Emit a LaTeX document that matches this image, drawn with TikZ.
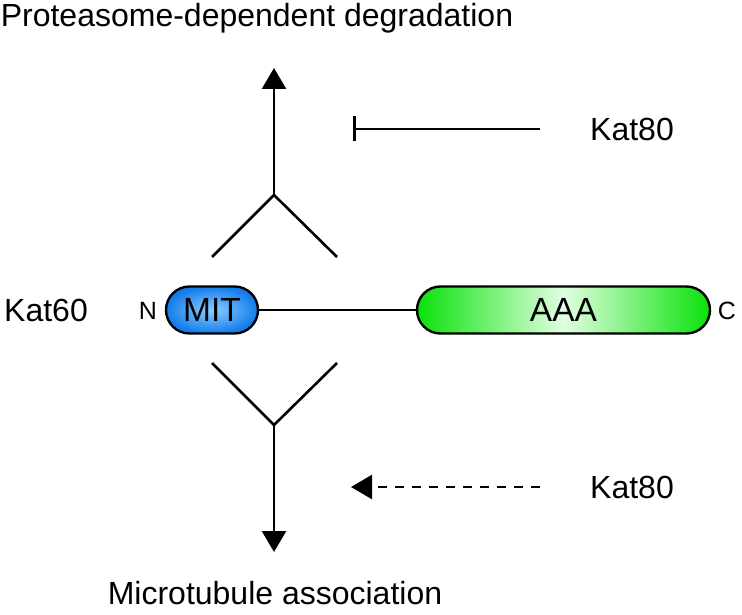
\documentclass[tikz,border=0pt]{standalone}
\usepackage{fontspec}
\setmainfont{Liberation Sans}
\usetikzlibrary{arrows.meta}
\definecolor{mitblue}{RGB}{20,125,235}
\definecolor{mitlight}{RGB}{140,205,255}
\definecolor{aaagreen}{RGB}{10,225,10}
\definecolor{aaalight}{RGB}{225,255,225}
\tikzset{
  biglbl/.style={font=\fontsize{32}{38}\selectfont, inner sep=0pt},
  smalllbl/.style={font=\fontsize{25}{30}\selectfont, inner sep=0pt},
  dombox/.style={draw=black, line width=2.4pt, rounded corners=23.5pt, inner sep=0pt,
    font=\fontsize{33.5}{40}\selectfont},
  connline/.style={line width=2.6pt, black},
  arrtip/.style={-{Triangle[width=24pt,length=21pt]}},
}
\begin{document}
\begin{tikzpicture}[x=1pt,y=-1pt]
\useasboundingbox (0,0) rectangle (742,615);
% texts
\node[biglbl, anchor=base] (title) at (257,27) {Proteasome-dependent degradation};
\node[biglbl, anchor=base] (bottom) at (275,604) {Microtubule association};
\node[biglbl] (kat60) at (46,310) {Kat60};
\node[smalllbl] (nterm) at (148,311) {N};
\node[smalllbl] (cterm) at (727,311) {C};
\node[biglbl] (kat80a) at (632,129) {Kat80};
\node[biglbl] (kat80b) at (632,487) {Kat80};
% domains
\node[dombox, minimum width=92pt, minimum height=47pt,
      inner color=mitlight, outer color=mitblue] (mit) at (212,310) {MIT};
\node[dombox, minimum width=293pt, minimum height=47pt,
      left color=aaagreen, right color=aaagreen, middle color=aaalight] (aaa) at (563.5,310) {AAA};
\draw[connline] (mit.east) -- (aaa.west);
% upper fork
\coordinate (upj) at (274,195);
\coordinate (uptip) at (274,68);
\coordinate (upl) at (212,257);
\coordinate (upr) at (337,257);
\draw[connline] (upl) -- (upj) -- (upr);
\draw[connline, arrtip] (upj) -- (uptip);
% lower fork
\coordinate (loj) at (274,425);
\coordinate (lotip) at (274,552);
\coordinate (lol) at (212,363);
\coordinate (lor) at (337,363);
\draw[connline] (lol) -- (loj) -- (lor);
\draw[connline, arrtip] (loj) -- (lotip);
% inhibition
\coordinate (inhs) at (540,129);
\coordinate (inhe) at (353,129);
\draw[connline, -{Bar[width=25pt,line width=3pt]}] (inhs) -- (inhe);
% dashed activation
\coordinate (acts) at (540,487);
\coordinate (acte) at (351,487);
\draw[connline, arrtip, dash pattern=on 9pt off 8pt] (acts) -- (acte);
\end{tikzpicture}
\end{document}
